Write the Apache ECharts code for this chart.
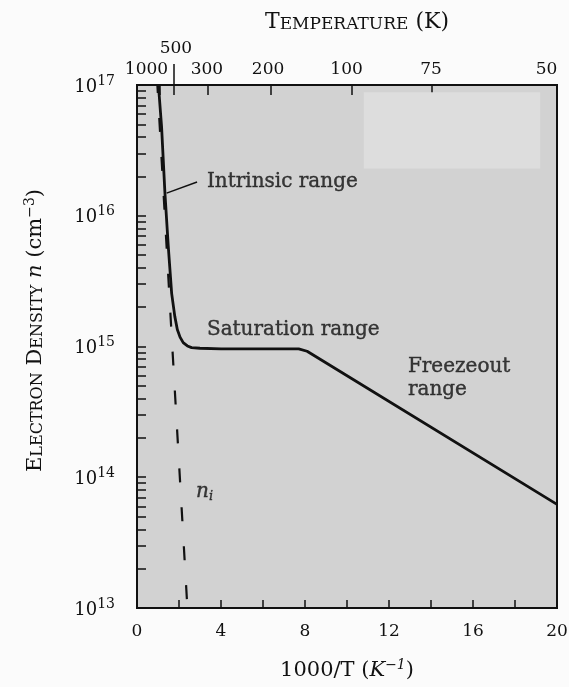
<!DOCTYPE html>
<html><head><meta charset="utf-8">
<script src="https://cdn.jsdelivr.net/npm/echarts@6/dist/echarts.min.js"></script>
<style>html,body{margin:0;padding:0;background:#fbfbfb;}#c{width:569px;height:687px;}</style>
</head><body><div id="c"></div>
<script>
// ---- data ----
const nX = [1.02, 1.17, 1.33, 1.49, 1.65, 1.80, 1.92, 2.05, 2.20, 2.40, 2.60, 3.0, 4.0, 6.0, 7.7, 8.1, 20];
const nY = [1e17, 4.8e16, 1.49e16, 5.8e15, 2.55e15, 1.7e15, 1.35e15, 1.18e15, 1.07e15, 1.01e15, 9.8e14, 9.7e14, 9.6e14, 9.6e14, 9.6e14, 9.2e14, 6.2e13];
const niX = [0.97, 1.68, 2.40];
const niY = [1e17, 1e15, 1e13];
const bottomTicks = [2, 4, 6, 8, 10, 12, 14, 16, 18];
const bottomLabels = [0, 4, 8, 12, 16, 20];
const yDecades = [1e13, 1e14, 1e15, 1e16, 1e17];
const yMinorMult = [2, 3, 4, 5, 6, 7, 8, 9];
const topTickPos = [1.10, 1.76, 3.38, 6.38, 10.24, 14.05];
const topLabelPos = [0.45, 3.33, 6.24, 9.98, 14.0, 19.5];
const topLabelText = ['1000', '300', '200', '100', '75', '50'];
const tick500Pos = [1.76];
const label500Pos = [1.85];
const label500Text = ['500'];
const notes = [
  [3.33, 1.81e16, 'Intrinsic range'],
  [3.33, 1.34e15, 'Saturation range'],
  [12.9, 5.74e14, 'Freezeout\nrange'],
  [2.81, 7.7e13, '{it|n}{sub|i}']
];
const leaderX = [1.41, 2.86];
const leaderY = [1.49e16, 1.81e16];
const patchX = [10.8, 19.2];
const patchY = [8.8e16, 2.3e16];

// ---- build ----
const yTicks = [];
for (let i = 0; i < yDecades.length; i++) {
  yTicks.push(yDecades[i]);
  if (i < yDecades.length - 1) yMinorMult.forEach(m => yTicks.push(m * yDecades[i]));
}
const serif = 'DejaVu Serif';
const ink = '#111111';
const zip = (a, b) => a.map((v, i) => [v, b[i]]);

const chart = echarts.init(document.getElementById('c'), null, {renderer: 'canvas'});
chart.setOption({
  animation: false,
  backgroundColor: '#fbfbfb',
  textStyle: {fontFamily: serif, color: ink},
  grid: {left: 137, top: 85, width: 420, height: 523, show: true, backgroundColor: '#d2d2d2',
         borderColor: ink, borderWidth: 2, containLabel: false, outerBoundsMode: 'none'},
  xAxis: [
    {type: 'value', position: 'bottom', min: 0, max: 20, interval: 2,
     axisLine: {show: true, lineStyle: {color: ink, width: 2}},
     axisTick: {show: true, inside: true, length: 8, customValues: bottomTicks, lineStyle: {color: ink, width: 1.5}},
     axisLabel: {customValues: bottomLabels, margin: 15, fontSize: 17, fontFamily: serif, color: ink},
     splitLine: {show: false},
     name: '{n|1000/T (}{i|K}{s|−1}{n|)}', nameLocation: 'middle', nameGap: 50,
     nameTextStyle: {rich: {
       n: {fontSize: 21, fontFamily: serif, color: ink, verticalAlign: 'bottom'},
       i: {fontSize: 21, fontFamily: serif, fontStyle: 'italic', color: ink, verticalAlign: 'bottom'},
       s: {fontSize: 14, fontFamily: serif, fontStyle: 'italic', color: ink, verticalAlign: 'bottom', padding: [0, 0, 9, 0]}
     }}},
    {type: 'value', position: 'top', min: 0, max: 20,
     axisLine: {show: true, lineStyle: {color: ink, width: 2}},
     axisTick: {show: true, inside: true, length: 10, customValues: topTickPos, lineStyle: {color: ink, width: 1.5}},
     axisLabel: {customValues: topLabelPos, margin: 7, fontSize: 17, fontFamily: serif, color: ink,
       formatter: v => { const k = topLabelPos.findIndex(p => Math.abs(p - v) < 1e-6); return k >= 0 ? topLabelText[k] : ''; }},
     splitLine: {show: false},
     name: '{b|T}{s|EMPERATURE}{b| (K)}', nameLocation: 'middle', nameGap: 52,
     nameTextStyle: {padding: [0, 0, 0, 20], rich: {
       b: {fontSize: 22, fontFamily: serif, color: ink, verticalAlign: 'bottom'},
       s: {fontSize: 17, fontFamily: serif, color: ink, verticalAlign: 'bottom'}
     }}},
    {type: 'value', position: 'top', min: 0, max: 20,
     axisLine: {show: false},
     axisTick: {show: true, inside: false, length: 21, customValues: tick500Pos, lineStyle: {color: ink, width: 1.5}},
     axisLabel: {customValues: label500Pos, margin: 28, fontSize: 17, fontFamily: serif, color: ink,
       formatter: v => label500Text[0]},
     splitLine: {show: false}}
  ],
  yAxis: [
    {type: 'log', logBase: 10, min: 1e13, max: 1e17, position: 'left',
     axisLine: {show: true, lineStyle: {color: ink, width: 2}},
     axisTick: {show: true, inside: true, length: 9, customValues: yTicks, lineStyle: {color: ink, width: 1.5}},
     minorTick: {show: false},
     axisLabel: {customValues: yDecades, margin: 22, fontFamily: serif, color: ink,
       formatter: v => '{b|10}{s|' + Math.round(Math.log10(v)) + '}',
       rich: {
         b: {fontSize: 18, fontFamily: serif, color: ink, verticalAlign: 'bottom'},
         s: {fontSize: 14, fontFamily: serif, color: ink, verticalAlign: 'bottom', padding: [0, 0, 8, 0]}
       }},
     splitLine: {show: false},
     name: '{b|E}{s|LECTRON}{b| D}{s|ENSITY}{b| }{i|n}{b| (cm}{u|−3}{b|)}',
     nameLocation: 'middle', nameRotate: 90, nameGap: 91,
     nameTextStyle: {padding: [0, 0, 0, 32], rich: {
       b: {fontSize: 21, fontFamily: serif, color: ink, verticalAlign: 'bottom'},
       s: {fontSize: 16, fontFamily: serif, color: ink, verticalAlign: 'bottom'},
       i: {fontSize: 21, fontFamily: serif, fontStyle: 'italic', color: ink, verticalAlign: 'bottom'},
       u: {fontSize: 14, fontFamily: serif, color: ink, verticalAlign: 'bottom', padding: [0, 0, 9, 0]}
     }}}
  ],
  series: [
    {type: 'line', name: 'patch', xAxisIndex: 0, yAxisIndex: 0, data: [], silent: true,
     markArea: {silent: true, itemStyle: {color: '#dddddd'},
       data: [[{coord: [patchX[0], patchY[0]]}, {coord: [patchX[1], patchY[1]]}]]}},
    {type: 'line', name: 'ni', xAxisIndex: 0, yAxisIndex: 0, data: zip(niX, niY), showSymbol: false, symbol: 'none',
     lineStyle: {color: ink, width: 2.2, type: [14, 25], dashOffset: 6}, z: 3},
    {type: 'line', name: 'n', xAxisIndex: 0, yAxisIndex: 0, data: zip(nX, nY), showSymbol: false, symbol: 'none',
     lineStyle: {color: ink, width: 2.8}, z: 4},
    {type: 'line', name: 'leader', xAxisIndex: 0, yAxisIndex: 0, data: zip(leaderX, leaderY), showSymbol: false, symbol: 'none',
     lineStyle: {color: ink, width: 1.5}, z: 4},
    {type: 'scatter', name: 'notes', xAxisIndex: 0, yAxisIndex: 0, symbolSize: 0,
     data: notes.map(n => ({value: [n[0], n[1]], name: n[2]})),
     label: {show: true, position: 'right', distance: 0, formatter: p => p.name,
       fontSize: 20, fontFamily: serif, color: ink, lineHeight: 23, align: 'left',
       textBorderColor: ink, textBorderWidth: 0.4,
       rich: {
         it: {fontSize: 20, fontFamily: serif, fontStyle: 'italic', color: ink, textBorderColor: ink, textBorderWidth: 0.4},
         sub: {fontSize: 13, fontFamily: serif, fontStyle: 'italic', color: ink, verticalAlign: 'top', padding: [10, 0, 0, 0]}
       }}, z: 5}
  ]
});
</script></body></html>
